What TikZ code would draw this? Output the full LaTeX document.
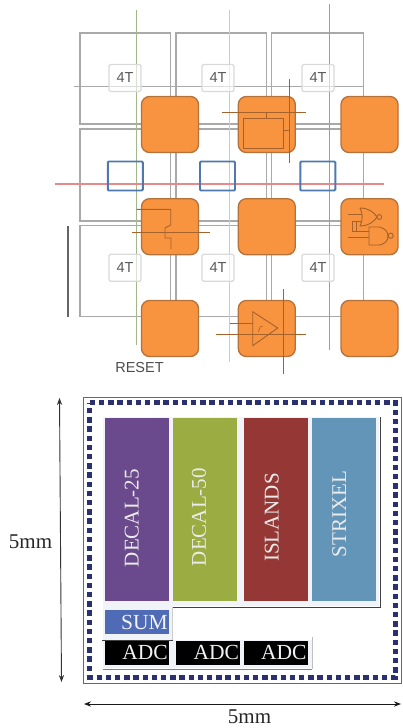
\documentclass[tikz,border=0pt]{standalone}
\usepackage{fontspec}
\setmainfont{Liberation Serif}
\newfontfamily\labelsans{Liberation Sans}
\usetikzlibrary{arrows.meta, calc, positioning}
\definecolor{CellGrey}{HTML}{A9A9A9}
\definecolor{PadOrange}{HTML}{F89340}
\definecolor{PadEdge}{HTML}{B5713A}
\definecolor{Wire}{HTML}{A5622B}
\definecolor{WireBlue}{HTML}{5078B0}
\definecolor{WireRed}{HTML}{E48A8A}
\definecolor{GreenA}{HTML}{A0B88A}
\definecolor{GreenB}{HTML}{C5D6AE}
\definecolor{GreenC}{HTML}{8DB356}
\definecolor{Navy}{HTML}{2B3070}
\definecolor{FrameEdge}{HTML}{5F6788}
\definecolor{Panel}{HTML}{F0F3F8}
\definecolor{Decal}{HTML}{6A4A8C}
\definecolor{DecalB}{HTML}{9BAC42}
\definecolor{Island}{HTML}{953735}
\definecolor{Strix}{HTML}{6295B8}
\definecolor{SumBlue}{HTML}{4F6BB5}
\tikzset{
  cell/.style={draw=CellGrey, line width=1.4pt},
  pad/.style={draw=PadEdge, fill=PadOrange, line width=1.3pt, rounded corners=8pt, minimum width=57pt, minimum height=56pt, inner sep=0pt},
  wire/.style={draw=Wire, line width=0.9pt},
  tbox/.style={draw=black!15, line width=1.2pt, fill=white, fill opacity=0.6, text opacity=1, text=black!65, rounded corners=1.5pt, minimum width=32pt, minimum height=27pt, inner sep=0pt, font=\labelsans\fontsize{14.5}{14.5}\selectfont},
  bluebox/.style={draw=WireBlue, line width=1.9pt, rounded corners=1pt, minimum width=35pt, minimum height=29pt, inner sep=0pt},
  bar/.style={minimum width=64pt, minimum height=183pt, inner sep=0pt},
  barlabel/.style={rotate=90, text=white!92!black, inner sep=0pt, font=\fontsize{21}{21}\selectfont},
  block/.style={text=white!95!black, text width=62pt, align=right, minimum height=23.5pt, inner xsep=1pt, inner ysep=0pt, font=\fontsize{21.5}{21.5}\selectfont},
  dimtext/.style={text=black!85, inner sep=0pt, font=\fontsize{21}{21}\selectfont},
}
\begin{document}
\begin{tikzpicture}[x=1pt, y=-1pt]
  \useasboundingbox (0,0) rectangle (403,728);
  % pixel cells
  \draw[cell] (80,33) rectangle (170.7,124);
  \draw[cell] (176,33) rectangle (266.3,124);
  \draw[cell] (271.7,33) rectangle (363.7,124);
  \draw[cell] (80,129) rectangle (170.7,221);
  \draw[cell] (176,129) rectangle (266.3,221);
  \draw[cell] (271.7,129) rectangle (363.7,221);
  \draw[cell] (80,225.7) rectangle (170.7,316.7);
  \draw[cell] (176,225.7) rectangle (266.3,316.7);
  \draw[cell] (271.7,225.7) rectangle (363.7,316.7);
  \draw[cell] (74,86.7) -- (363.7,86.7);
  \draw[draw=black!60, line width=1.4pt] (68,226) -- (68,316.7);
  % tall lines
  \draw[GreenA, line width=1.5pt] (136.7,10) -- (136.7,345);
  \draw[GreenB, line width=1.5pt] (229.3,10) -- (229.3,361.7);
  \draw[GreenC, line width=1.5pt] (329.7,4) -- (329.7,350);
  \draw[WireRed, line width=1.1pt] (55,184) -- (384,184);
  % 4T boxes
  \node[tbox] (t11) at (125,78) {4T};
  \node[tbox] (t12) at (218,78) {4T};
  \node[tbox] (t13) at (318,78) {4T};
  \node[tbox] (t21) at (125,267.8) {4T};
  \node[tbox] (t22) at (218,267.8) {4T};
  \node[tbox] (t23) at (318,267.8) {4T};
  % blue boxes
  \node[bluebox] (b1) at (125.3,176) {};
  \node[bluebox] (b2) at (217.5,176) {};
  \node[bluebox] (b3) at (317.8,176) {};
  % orange pads
  \node[pad] (p11) at (170,124.5) {};
  \node[pad] (p12) at (266.8,124.5) {};
  \node[pad] (p13) at (369.5,124.5) {};
  \node[pad] (p21) at (170,226.7) {};
  \node[pad] (p22) at (266.8,226.7) {};
  \node[pad] (p23) at (369.5,226.7) {};
  \node[pad] (p31) at (170,328.5) {};
  \node[pad] (p32) at (266.8,328.5) {};
  \node[pad] (p33) at (369.5,328.5) {};
  % circuit in upper middle pad
  \draw[wire] (221.7,112.7) -- (306,112.7);
  \draw[wire] (289.3,79) -- (289.3,163);
  \draw[wire] (243.3,118) rectangle (283.3,148);
  \draw[wire] (266,112.7) -- (266,118);
  \draw[wire] (283.3,130) -- (289.3,130);
  % circuit in left pad
  \draw[wire] (136.7,209.3) -- (170.7,209.3) -- (170.7,225) -- (165,228) -- (165,238) -- (171,238) -- (171,249.3);
  \draw[wire] (131.7,232.3) -- (210,232.3);
  % gates
  \draw[wire] (360,208) .. controls (368,208) and (374,212) .. (377,217) .. controls (374,222) and (368,226) .. (360,226) .. controls (363,220) and (363,214) .. (360,208);
  \draw[wire] (379.3,217) circle (2.4pt);
  \draw[wire] (369,227) -- (379,227) .. controls (385,228) and (388,232) .. (388,236) .. controls (388,241) and (385,244) .. (379,245) -- (369,245) -- cycle;
  \draw[wire] (390.7,235.7) circle (2.6pt);
  \draw[wire] (348,214) -- (362,214);
  \draw[wire] (352,221) -- (362,221);
  \draw[wire] (352,221) -- (352,231) -- (369,231);
  \draw[wire] (356,221) -- (356,231);
  \draw[wire] (348,237) -- (369,237);
  % amplifier
  \draw[wire] (252.7,311.7) -- (277.7,328) -- (252.7,345.7) -- cycle;
  \draw[wire] (230,323.3) -- (252.7,323.3);
  \draw[wire] (215.7,334) -- (306,334);
  \draw[wire] (283,289) -- (283,374);
  \draw[wire, line width=0.6pt] (258.5,332) -- (260,327) -- (263,326);
  \node[text=black!70, inner sep=0pt, font=\labelsans\fontsize{14.5}{14.5}\selectfont] (reset) at (139.5,367.5) {RESET};
  % chip frame
  \draw[FrameEdge, line width=1pt] (83.3,397.7) rectangle (401,683.3);
  \draw[Navy, line width=5pt, dash pattern=on 5.4pt off 3.8pt] (89.7,402.7) -- (395.7,402.7) -- (395.7,677) -- (89.7,677) -- cycle;
  % panels
  \fill[Panel] (103,417) rectangle (379,606);
  \draw[black!75, line width=1pt] (380,417) -- (380,607) -- (173,607);
  \fill[Panel] (103,606) rectangle (172.5,640);
  \draw[black!20, line width=1pt] (172.7,607) -- (172.7,640);
  \fill[Panel] (103,640) rectangle (311.5,668);
  \draw[black!25, line width=1pt] (312,637) -- (312,669);
  \draw[black!50, line width=1pt] (103,669) -- (312,669);
  \draw[black!75, line width=1.6pt] (102,640.5) -- (173,640.5);
  % macros
  \node[bar, fill=Decal] (b25) at (136.7,509.5) {};
  \node[bar, fill=DecalB] (b50) at (204.7,509.5) {};
  \node[bar, fill=Island] (bis) at (275.5,509.5) {};
  \node[bar, fill=Strix] (bst) at (343.5,509.5) {};
  \node[barlabel] (l25) at (131.7,518) {DECAL-25};
  \node[barlabel] (l50) at (199,517) {DECAL-50};
  \node[barlabel] (lis) at (271.7,517.5) {ISLANDS};
  \node[barlabel] (lst) at (339.3,514) {STRIXEL};
  \node[block, fill=SumBlue, minimum height=24pt] (sum) at (136.7,622.2) {SUM};
  \node[block, fill=black] (adc1) at (136.7,652.8) {ADC};
  \node[block, fill=black] (adc2) at (208,652.8) {ADC};
  \node[block, fill=black] (adc3) at (275.5,652.8) {ADC};
  % dimensions
  \coordinate (dimT) at (59.5,398);
  \coordinate (dimB) at (61.5,682);
  \coordinate (dimL) at (84,704);
  \coordinate (dimR) at (401,704);
  \draw[{Stealth[length=7pt]}-{Stealth[length=7pt]}, draw=black!80, line width=0.9pt] (dimT) -- (dimB);
  \draw[{Stealth[length=7pt]}-{Stealth[length=7pt]}, draw=black!90, line width=0.9pt] (dimL) -- (dimR);
  \node[dimtext] (sizeV) at (30.5,542) {5mm};
  \node[dimtext] (sizeH) at (249.5,716.5) {5mm};
\end{tikzpicture}
\end{document}
